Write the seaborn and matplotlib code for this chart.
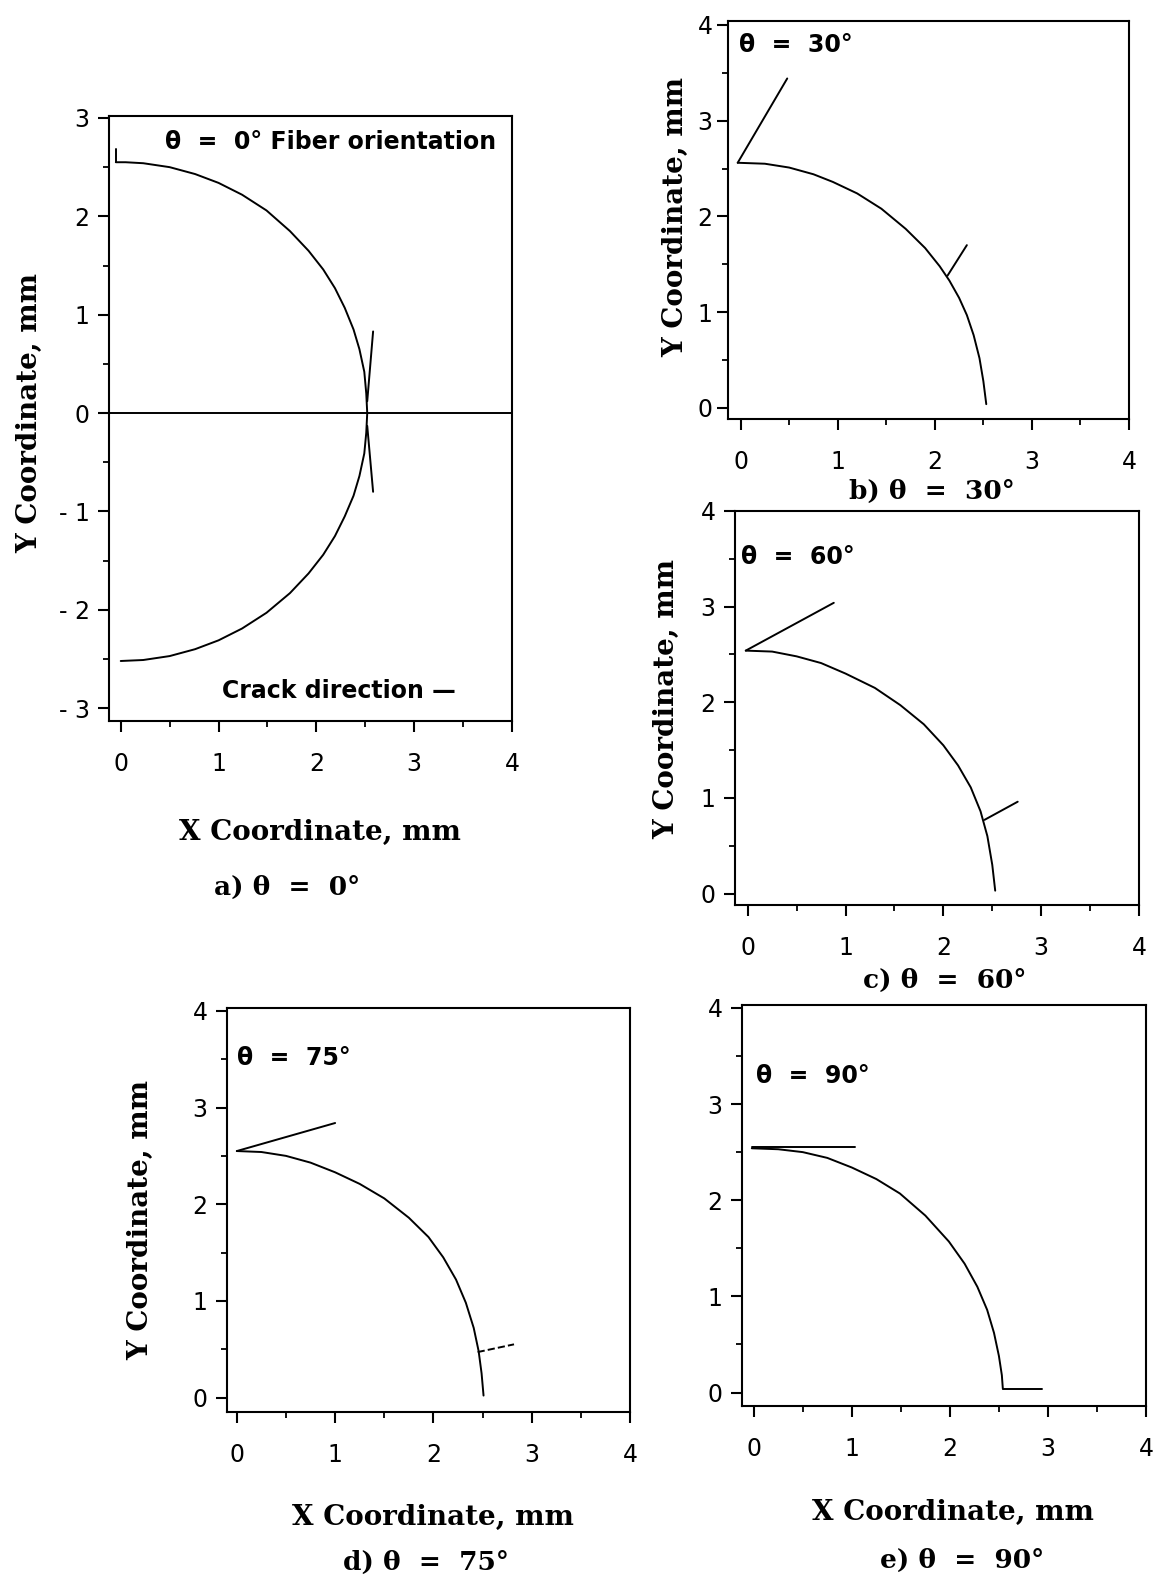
import matplotlib
matplotlib.use("Agg")
import matplotlib.pyplot as plt
import seaborn as sns
from matplotlib.ticker import MultipleLocator

sns.set_theme(style="ticks")
plt.rcParams['font.family'] = ['DejaVu Sans']

# --- data (mm) ---
# a) theta = 0, full front (upper and lower half)
a_up_x = [-0.05, 0.05, 0.23, 0.5, 0.76, 1.0, 1.24, 1.49, 1.73, 1.92, 2.07, 2.19, 2.29, 2.38, 2.44, 2.49, 2.51, 2.52]
a_up_y = [2.55, 2.55, 2.54, 2.50, 2.43, 2.34, 2.22, 2.06, 1.85, 1.65, 1.46, 1.27, 1.07, 0.85, 0.65, 0.42, 0.2, 0.0]
a_lo_x = [0.0, 0.23, 0.5, 0.76, 1.0, 1.24, 1.49, 1.73, 1.92, 2.07, 2.19, 2.29, 2.38, 2.44, 2.49, 2.51, 2.52]
a_lo_y = [-2.52, -2.51, -2.47, -2.40, -2.31, -2.19, -2.03, -1.83, -1.63, -1.44, -1.25, -1.05, -0.84, -0.64, -0.41, -0.2, 0.0]
a_seg_x = [[-0.05, -0.05], [2.52, 2.58], [2.52, 2.58]]
a_seg_y = [[2.55, 2.68], [0.12, 0.83], [-0.13, -0.8]]

# b) theta = 30
b_x = [-0.03, 0.25, 0.5, 0.75, 0.95, 1.2, 1.45, 1.7, 1.9, 2.05, 2.15, 2.25, 2.33, 2.4, 2.46, 2.5, 2.53]
b_y = [2.56, 2.55, 2.51, 2.44, 2.36, 2.24, 2.08, 1.87, 1.67, 1.48, 1.33, 1.15, 0.97, 0.76, 0.52, 0.28, 0.04]
b_seg_x = [[-0.03, 0.48], [2.13, 2.33]]
b_seg_y = [[2.56, 3.44], [1.38, 1.70]]

# c) theta = 60
c_x = [-0.02, 0.25, 0.5, 0.75, 1.0, 1.3, 1.56, 1.8, 2.0, 2.15, 2.28, 2.38, 2.45, 2.5, 2.53]
c_y = [2.54, 2.53, 2.48, 2.41, 2.3, 2.15, 1.97, 1.77, 1.55, 1.34, 1.11, 0.86, 0.6, 0.3, 0.03]
c_seg_x = [[-0.02, 0.88], [2.42, 2.76]]
c_seg_y = [[2.54, 3.04], [0.77, 0.96]]

# d) theta = 75
d_x = [0.0, 0.25, 0.5, 0.75, 1.0, 1.25, 1.5, 1.75, 1.95, 2.1, 2.23, 2.33, 2.41, 2.46, 2.49, 2.51]
d_y = [2.55, 2.54, 2.5, 2.43, 2.33, 2.21, 2.06, 1.86, 1.66, 1.45, 1.22, 0.98, 0.72, 0.48, 0.25, 0.02]
d_seg_x = [[0.0, 1.0], [2.45, 2.82]]
d_seg_y = [[2.55, 2.84], [0.47, 0.55]]

# e) theta = 90
e_x = [-0.02, 0.25, 0.5, 0.75, 1.0, 1.25, 1.49, 1.75, 1.99, 2.15, 2.28, 2.38, 2.45, 2.5, 2.53, 2.54]
e_y = [2.54, 2.53, 2.5, 2.44, 2.34, 2.22, 2.07, 1.84, 1.57, 1.34, 1.1, 0.86, 0.62, 0.38, 0.18, 0.04]
e_seg_x = [[-0.02, 1.03], [2.54, 2.94]]
e_seg_y = [[2.55, 2.55], [0.04, 0.04]]

x_ticks = [0, 1, 2, 3, 4]
y_ticks_a = [-3, -2, -1, 0, 1, 2, 3]
y_labels_a = ['- 3', '- 2', '- 1', '0', '1', '2', '3']
y_ticks = [0, 1, 2, 3, 4]

W, H = 1155, 1581
fig = plt.figure(figsize=(W / 100, H / 100), dpi=100)


def px(x0, y0, x1, y1):
    # pixel box -> figure fraction rect
    return [x0 / W, 1 - y1 / H, (x1 - x0) / W, (y1 - y0) / H]


def setup(ax, xlim, ylim, yt, ylab=None, ypad=6):
    ax.set_xlim(xlim)
    ax.set_ylim(ylim)
    ax.set_xticks(x_ticks)
    ax.set_xticklabels([str(t) for t in x_ticks])
    ax.set_yticks(yt)
    ax.set_yticklabels(ylab if ylab else [str(t) for t in yt])
    ax.xaxis.set_minor_locator(MultipleLocator(0.5))
    ax.yaxis.set_minor_locator(MultipleLocator(0.5))
    ax.tick_params(which='major', direction='out', length=8, width=1.5,
                   labelsize=17, colors='black')
    ax.tick_params(which='minor', direction='out', length=4, width=1.3, colors='black')
    ax.tick_params(axis='x', which='major', pad=14)
    ax.tick_params(axis='y', which='major', pad=ypad)
    for s in ax.spines.values():
        s.set_linewidth(1.5)
        s.set_color('black')
    ax.set_xlabel('')
    ax.set_ylabel('')


def curve(ax, x, y):
    sns.lineplot(x=x, y=y, sort=False, estimator=None, color='black',
                 linewidth=1.4, ax=ax)


def segs(ax, sx, sy, dashed_last=False):
    for i, (xx, yy) in enumerate(zip(sx, sy)):
        ls = '--' if (dashed_last and i == len(sx) - 1) else '-'
        sns.lineplot(x=xx, y=yy, sort=False, estimator=None, color='black',
                     linewidth=1.4, linestyle=ls, ax=ax)


ann = dict(fontsize=17, fontweight='bold', color='black', family='DejaVu Sans')
lab = dict(fontsize=20, fontweight='bold', color='black', family='DejaVu Serif')
cap = dict(fontsize=19, fontweight='bold', color='black', family='DejaVu Serif')

# a)
ax_a = fig.add_axes(px(109, 116, 512, 721))
curve(ax_a, a_up_x, a_up_y)
curve(ax_a, a_lo_x, a_lo_y)
segs(ax_a, a_seg_x, a_seg_y)
ax_a.axhline(0, color='black', lw=1.4)
setup(ax_a, (-0.12, 4.0), (-3.13, 3.02), y_ticks_a, y_labels_a)
ax_a.text(3.84, 2.76, 'θ  =  0° Fiber orientation', ha='right', va='center', **ann)
ax_a.text(3.43, -2.82, 'Crack direction —', ha='right', va='center', **ann)

# b)
ax_b = fig.add_axes(px(728, 21, 1129, 419))
curve(ax_b, b_x, b_y)
segs(ax_b, b_seg_x, b_seg_y)
setup(ax_b, (-0.13, 4.0), (-0.115, 4.04), y_ticks, ypad=3)
ax_b.text(-0.02, 3.79, 'θ  =  30°', ha='left', va='center', **ann)

# c)
ax_c = fig.add_axes(px(735, 511, 1139, 905))
curve(ax_c, c_x, c_y)
segs(ax_c, c_seg_x, c_seg_y)
setup(ax_c, (-0.13, 4.0), (-0.12, 4.0), y_ticks)
ax_c.text(-0.07, 3.52, 'θ  =  60°', ha='left', va='center', **ann)

# d)
ax_d = fig.add_axes(px(227, 1008, 630, 1412))
curve(ax_d, d_x, d_y)
segs(ax_d, d_seg_x, d_seg_y, dashed_last=True)
setup(ax_d, (-0.1, 4.0), (-0.15, 4.03), y_ticks)
ax_d.text(0.0, 3.51, 'θ  =  75°', ha='left', va='center', **ann)

# e)
ax_e = fig.add_axes(px(742, 1005, 1146, 1406))
curve(ax_e, e_x, e_y)
segs(ax_e, e_seg_x, e_seg_y)
setup(ax_e, (-0.12, 4.0), (-0.14, 4.03), y_ticks)
ax_e.text(0.02, 3.29, 'θ  =  90°', ha='left', va='center', **ann)


# axis labels and captions (figure pixel positions)
def ftext(x, y, s, **kw):
    fig.text(x / W, 1 - y / H, s, ha='center', va='center', **kw)


ftext(30, 413, 'Y Coordinate, mm', rotation=90, **lab)
ftext(320, 832, 'X Coordinate, mm', **lab)
ftext(287, 887, 'a) θ  =  0°', **cap)

ftext(676, 217, 'Y Coordinate, mm', rotation=90, **lab)
ftext(932, 491, 'b) θ  =  30°', **cap)

ftext(667, 699, 'Y Coordinate, mm', rotation=90, **lab)
ftext(945, 980, 'c) θ  =  60°', **cap)

ftext(141, 1220, 'Y Coordinate, mm', rotation=90, **lab)
ftext(433, 1517, 'X Coordinate, mm', **lab)
ftext(426, 1562, 'd) θ  =  75°', **cap)

ftext(953, 1512, 'X Coordinate, mm', **lab)
ftext(962, 1560, 'e) θ  =  90°', **cap)

fig.savefig('out.png', dpi=100)
